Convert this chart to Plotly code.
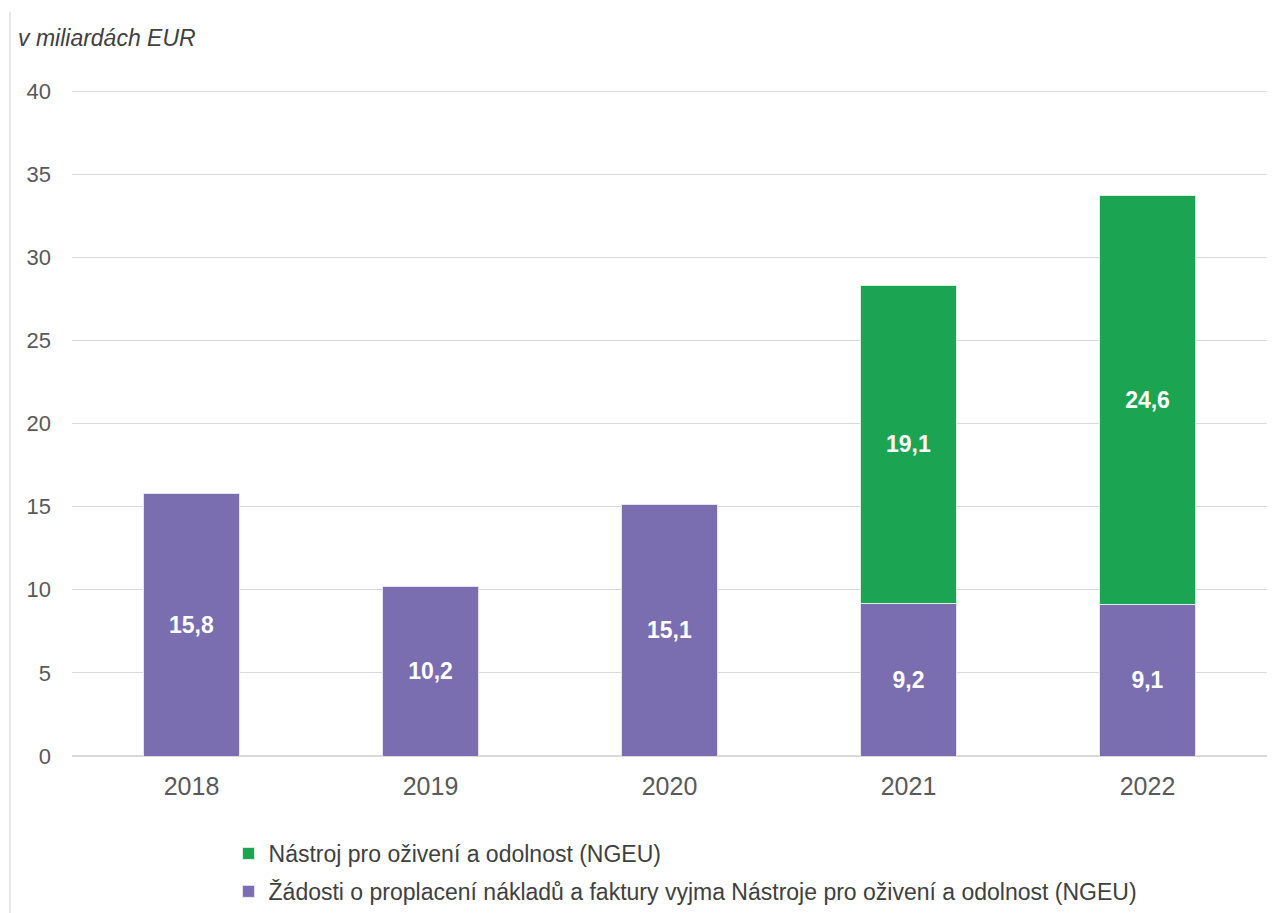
import plotly.graph_objects as go

years = ["2018", "2019", "2020", "2021", "2022"]
zadosti = [15.8, 10.2, 15.1, 9.2, 9.1]
nastroj = [None, None, None, 19.1, 24.6]
zadosti_labels = ["15,8", "10,2", "15,1", "9,2", "9,1"]
nastroj_labels = ["", "", "", "19,1", "24,6"]
y_ticks = [0, 5, 10, 15, 20, 25, 30, 35, 40]

name_zadosti = "Žádosti o proplacení nákladů a faktury vyjma Nástroje pro oživení a odolnost (NGEU)"
name_nastroj = "Nástroj pro oživení a odolnost (NGEU)"

FONT = "Liberation Sans, Arial, sans-serif"
PURPLE = "#7A6DB0"
GREEN = "#1BA553"
GRID = "#D9D9D9"

fig = go.Figure()
fig.add_trace(go.Bar(
    x=years, y=zadosti, name=name_zadosti, legendgroup="b", legendrank=2,
    marker=dict(color=PURPLE, line=dict(color="#E6E3F0", width=1)),
    text=zadosti_labels, texttemplate="%{text}", textposition="inside",
    insidetextanchor="middle",
    textfont=dict(family=FONT, size=23, color="white", weight="bold"),
    hoverinfo="skip",
))
fig.add_trace(go.Bar(
    x=years, y=nastroj, name=name_nastroj, legendgroup="a", legendrank=1,
    marker=dict(color=GREEN, line=dict(color="#D8F0E0", width=1)),
    text=nastroj_labels, texttemplate="%{text}", textposition="inside",
    insidetextanchor="middle",
    textfont=dict(family=FONT, size=23, color="white", weight="bold"),
    hoverinfo="skip",
))

fig.update_layout(
    width=1279, height=913,
    barmode="stack", bargap=0.6,
    paper_bgcolor="white", plot_bgcolor="white",
    margin=dict(l=64, r=20, t=83, b=165, autoexpand=False),
    font=dict(family=FONT, size=22, color="#595959"),
    uniformtext=dict(minsize=10, mode="show"),
    showlegend=True,
    legend=dict(
        orientation="v", traceorder="grouped",
        x=0.131, xanchor="left", y=-0.1143, yanchor="top",
        font=dict(family=FONT, size=23, color="#404040"),
        itemwidth=30, tracegroupgap=5,
        bgcolor="rgba(0,0,0,0)",
    ),
    xaxis=dict(
        type="category", showgrid=False, showline=False, ticks="",
        tickfont=dict(family=FONT, size=25, color="#595959"),
        ticklabelstandoff=13,
    ),
    yaxis=dict(
        range=[0, 40], tickvals=y_ticks, ticktext=[str(v) for v in y_ticks],
        showgrid=True, gridcolor=GRID, gridwidth=1.3,
        zeroline=True, zerolinecolor=GRID, zerolinewidth=1.5,
        showline=False, ticks="",
        tickfont=dict(family=FONT, size=22, color="#595959"),
        ticklabelstandoff=20,
    ),
    annotations=[dict(
        text="<i>v miliardách EUR</i>", xref="paper", yref="paper",
        x=-0.0469, y=1.0797, xanchor="left", yanchor="middle", showarrow=False,
        font=dict(family=FONT, size=23, color="#404040"),
    )],
    shapes=[
        dict(
            type="line", xref="paper", yref="paper",
            x0=-0.0519, x1=-0.0519, y0=1.119, y1=-0.26,
            line=dict(color=GRID, width=1.2),
        ),
        dict(
            type="line", xref="paper", yref="y",
            x0=0, x1=1, y0=y_ticks[-1], y1=y_ticks[-1],
            line=dict(color=GRID, width=1.3), layer="below",
        ),
    ],
)

fig.write_html("out.html")
